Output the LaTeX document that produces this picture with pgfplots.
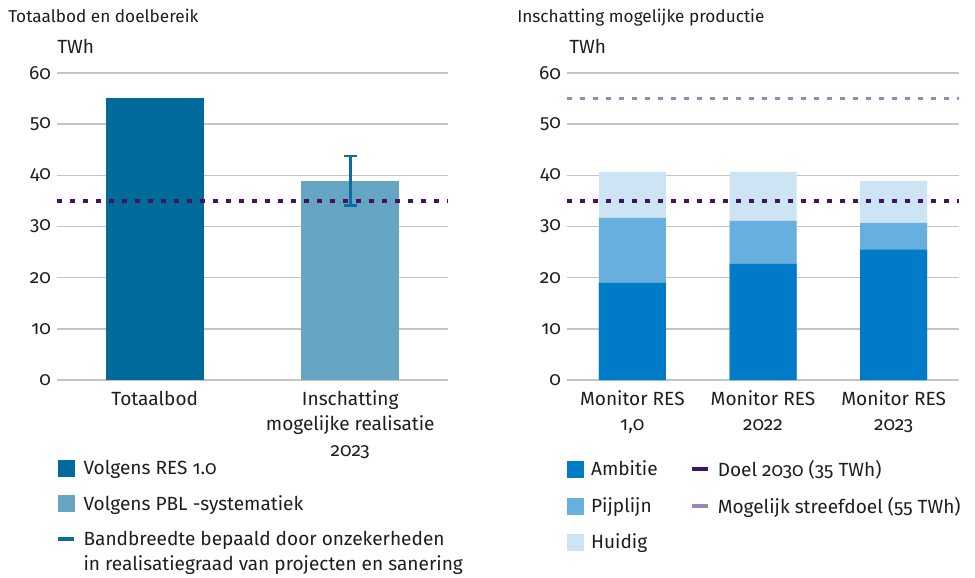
\documentclass[border=0pt]{standalone}
\usepackage{fontspec}
\setmainfont{Fira Sans}[Numbers=OldStyle]
\usepackage{pgfplots}
\pgfplotsset{compat=1.18}
\definecolor{cres}{HTML}{006A9B}
\definecolor{cpbl}{HTML}{66A6C4}
\definecolor{cerr}{HTML}{0D6B9E}
\definecolor{camb}{HTML}{007BC7}
\definecolor{cpijp}{HTML}{66AFDE}
\definecolor{chuid}{HTML}{CCE4F4}
\definecolor{cdoel}{HTML}{42145F}
\definecolor{cstreef}{HTML}{9A86B8}
\definecolor{cgrid}{HTML}{C4C4C4}
\definecolor{ctext}{HTML}{1E1E1E}
\newcommand\lblfont{\fontsize{14.3pt}{19pt}\selectfont}
\pgfplotsset{
  base/.style={
    scale only axis,
    height=230.25pt,
    ymin=0, ymax=60,
    ytick={0,10,...,60},
    ymajorgrids,
    grid style={cgrid, line width=1.1pt},
    axis line style={draw=none},
    major tick length=0pt,
    tick label style={font=\lblfont, text=ctext},
    yticklabel style={xshift=-1pt},
    xticklabel style={align=center, anchor=north, yshift=-4.5pt},
    /pgf/number format/assume math mode=true,
    xtick=data,
    clip=false,
    legend style={draw=none, fill=none, font=\lblfont, text=ctext,
      cells={anchor=west, align=left}, row sep=10pt, inner sep=0pt,
      /tikz/every odd column/.append style={column sep=3.5pt}},
    legend cell align=left,
  },
  sq/.style={legend image code/.code={\fill[#1] (0pt,-6pt) rectangle (12pt,6pt);}},
  ln/.style={legend image code/.code={\draw[#1, line width=3pt] (0pt,0pt) -- (12pt,0pt);}},
  lntop/.style={legend image code/.code={\draw[#1, line width=3pt] (0pt,9.5pt) -- (12pt,9.5pt);\path (0pt,-9.5pt);}},
}
\begin{document}
\begin{tikzpicture}
\path[use as bounding box] (0,0) rectangle (731.25pt,-433.5pt);
\node[anchor=base west, inner sep=0pt, text=ctext, font=\fontsize{12.9pt}{15pt}\selectfont] at (6pt,-16.5pt) {Totaalbod en doelbereik};
\node[anchor=base west, inner sep=0pt, text=ctext, font=\fontsize{14.3pt}{15pt}\selectfont] at (42.75pt,-39.75pt) {TWh};
\node[anchor=base west, inner sep=0pt, text=ctext, font=\fontsize{12.9pt}{15pt}\selectfont] at (387.75pt,-16.5pt) {Inschatting mogelijke productie};
\node[anchor=base west, inner sep=0pt, text=ctext, font=\fontsize{14.3pt}{15pt}\selectfont] at (426.75pt,-39.75pt) {TWh};

% left axis
\begin{axis}[base,
  at={(42.75pt,-285pt)}, anchor=south west,
  width=293.25pt,
  xmin=-0.5, xmax=1.5,
  xticklabels={Totaalbod, {Inschatting\\mogelijke realisatie\\2023}},
  legend style={at={(axis description cs:0,0)}, anchor=north west, xshift=-0.75pt, yshift=-58pt},
]
\addlegendimage{sq=cres}
\addlegendentry{Volgens RES 1.0}
\addlegendimage{sq=cpbl}
\addlegendentry{Volgens PBL -systematiek}
\addlegendimage{lntop=cerr}
\addlegendentry{Bandbreedte bepaald door onzekerheden\\in realisatiegraad van projecten en sanering}
\addplot[ybar, bar width=73.5pt, bar shift=0pt, fill=cres, draw=none, forget plot] coordinates {(0,55.1)};
\addplot[ybar, bar width=73.5pt, bar shift=0pt, fill=cpbl, draw=none, forget plot,
  error bars/.cd, y dir=both, y explicit,
  error bar style={cerr, line width=2pt},
  error mark options={cerr, rotate=90, mark size=5pt, line width=2pt}]
  coordinates {(1,38.9) +- (0,4.85) -= (0,4.75)};
\addplot[cdoel, line width=2.4pt, dash pattern=on 4pt off 5.75pt, forget plot] coordinates {(-0.5,35) (1.5,35)};
\end{axis}

% right axis
\begin{axis}[base,
  at={(425.25pt,-285pt)}, anchor=south west,
  width=294pt,
  xmin=-0.5, xmax=2.5,
  xticklabels={{Monitor RES\\1,0}, {Monitor RES\\2022}, {Monitor RES\\2023}},
  legend columns=3, transpose legend,
  legend style={at={(axis description cs:0,0)}, anchor=north west, xshift=0pt, yshift=-58pt,
    /tikz/every even column/.append style={column sep=22.5pt}},
]
\addlegendimage{sq=camb}
\addlegendentry{Ambitie}
\addlegendimage{sq=cpijp}
\addlegendentry{Pijplijn}
\addlegendimage{sq=chuid}
\addlegendentry{Huidig}
\addlegendimage{ln=cdoel}
\addlegendentry{Doel 2030 (35 TWh)}
\addlegendimage{ln=cstreef}
\addlegendentry{Mogelijk streefdoel (55 TWh)}
% cumulative tops: Huidig (total), Pijplijn (Ambitie+Pijplijn), Ambitie
\addplot[ybar, bar width=50.25pt, bar shift=0pt, fill=chuid, draw=none, forget plot] coordinates {(0,40.7) (1,40.7) (2,38.9)};
\addplot[ybar, bar width=50.25pt, bar shift=0pt, fill=cpijp, draw=none, forget plot] coordinates {(0,31.7) (1,31.1) (2,30.7)};
\addplot[ybar, bar width=50.25pt, bar shift=0pt, fill=camb, draw=none, forget plot] coordinates {(0,19.0) (1,22.7) (2,25.5)};
\addplot[cdoel, line width=2.4pt, dash pattern=on 4pt off 5.75pt, forget plot] coordinates {(-0.5,35) (2.5,35)};
\addplot[cstreef, line width=2.4pt, dash pattern=on 4pt off 5.75pt, forget plot] coordinates {(-0.5,55) (2.5,55)};
\end{axis}
\end{tikzpicture}
\end{document}
